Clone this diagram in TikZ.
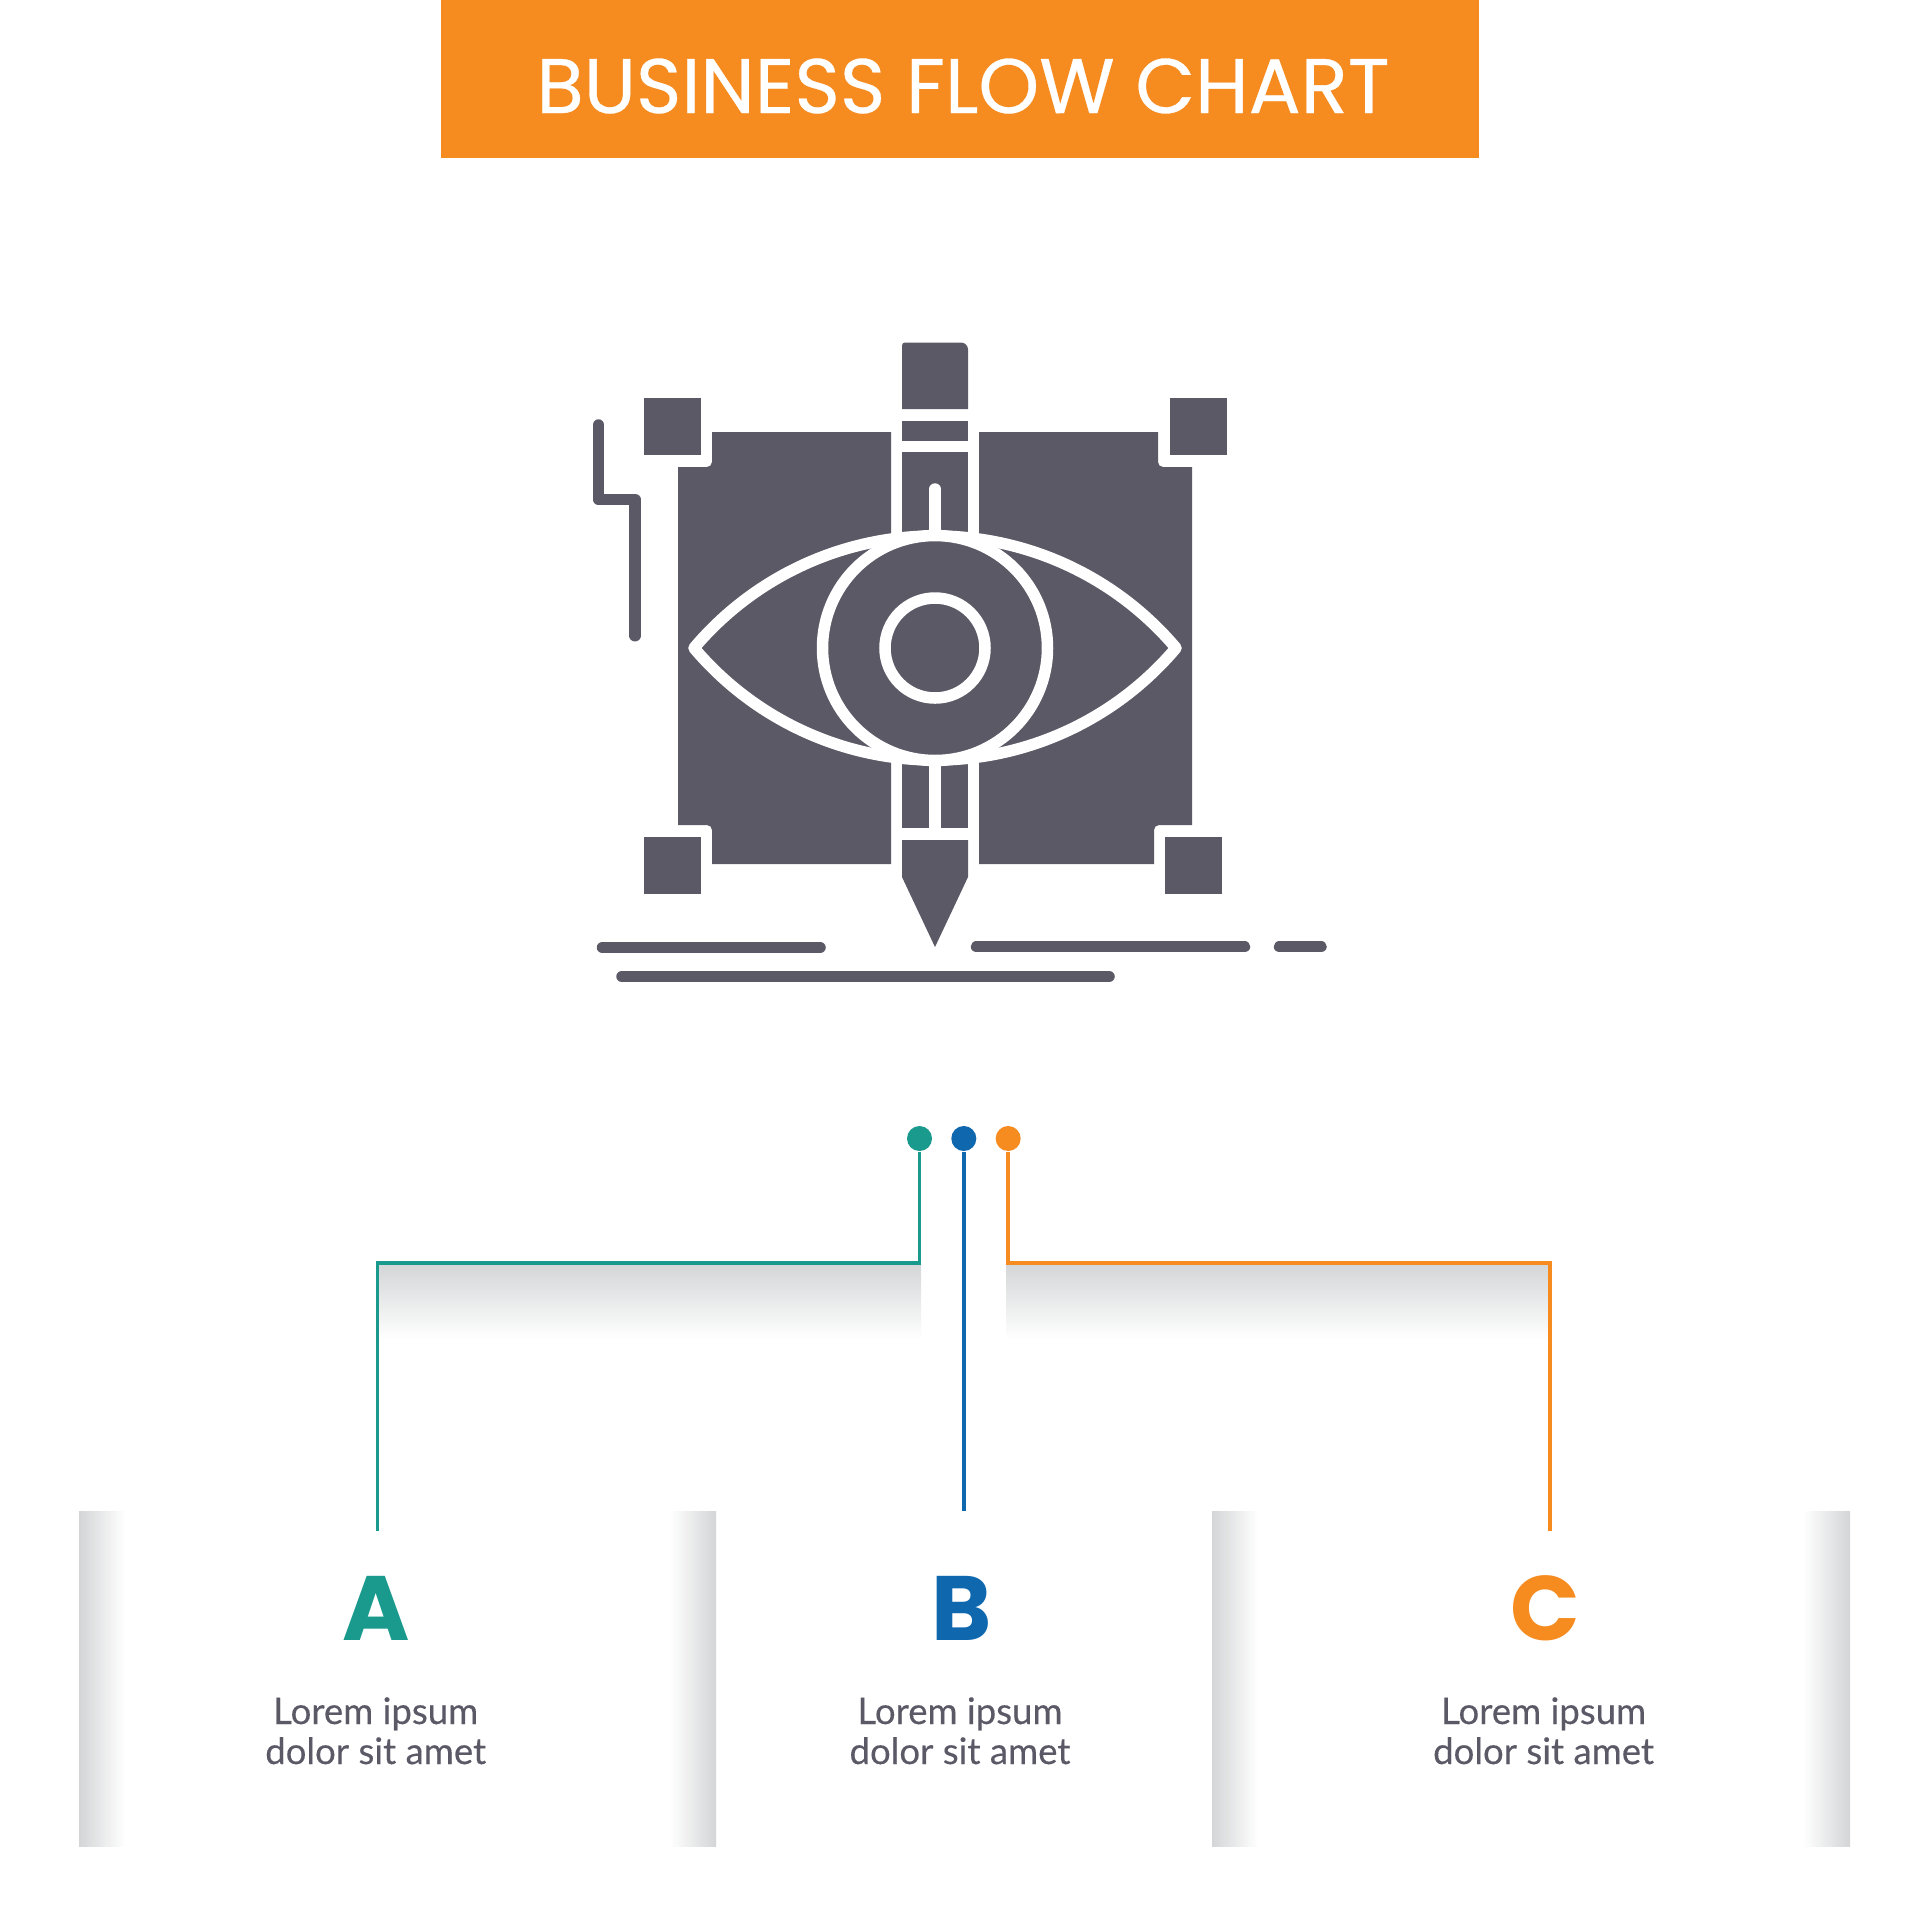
\documentclass[tikz,border=0pt]{standalone}
\usepackage{fontspec}
\setmainfont{Lato}
\newfontfamily\titlefont{Poppins}
\newfontfamily\bannerfont[FakeBold=0.4]{Poppins}
\newfontfamily\capfont[FakeBold=0.25]{Lato}
\definecolor{icondark}{HTML}{5B5966}
\definecolor{flowteal}{HTML}{1A9A8C}
\definecolor{flowblue}{HTML}{0F67AE}
\definecolor{floworange}{HTML}{F68B1F}
\definecolor{flowshade}{HTML}{D3D5D6}
\tikzset{
    banner/.style={fill=floworange,inner sep=0pt,minimum width=10.38cm,minimum height=1.58cm},
    bannertext/.style={text=white,inner sep=0pt,font=\bannerfont\fontsize{22pt}{26pt}\selectfont},
    flowdot/.style={circle,fill=#1,inner sep=0pt,minimum size=0.25cm},
    letter/.style={text=#1,inner sep=0pt,anchor=base,font=\titlefont\bfseries\fontsize{26pt}{31pt}\selectfont},
    caption/.style={text=icondark,inner sep=0pt,align=center,anchor=base,font=\capfont\fontsize{10.4pt}{11.38pt}\selectfont},
    wire/.style={draw=#1,line width=0.035cm},
    stroke/.style={draw=white,line width=0.115cm},
    icon line/.style={draw=icondark,line width=0.115cm,line cap=round,line join=round}
}

\begin{document}
\begin{tikzpicture}[x=0.01cm,y=-0.01cm,node distance=0.443cm]
        \useasboundingbox (0,0) rectangle (1920,1920);
        \fill[white] (0,0) rectangle (1920,1920);
        \node[banner] (bar) at (960,79) {};
        \node[bannertext] (title) at (963,86) {BUSINESS FLOW CHART};

        % shadows
        \shade[top color=flowshade,bottom color=white] (378,1263) rectangle (921,1339);
        \shade[top color=flowshade,bottom color=white] (1006,1263) rectangle (1550,1339);
        \foreach \xa/\xb in {79/125,1212/1258}
            \shade[left color=flowshade,right color=white] (\xa,1511) rectangle (\xb,1846);
        \foreach \xa/\xb in {670/716,1803/1850}
            \shade[left color=white,right color=flowshade] (\xa,1511) rectangle (\xb,1846);

        % icon
        \fill[icondark] (712,432) -- (891,432) -- (891,864) -- (712,864) [rounded corners=0.05cm] -- (712,825) [sharp corners] -- (678,825) -- (678,467) [rounded corners=0.05cm] -- (712,467) [sharp corners] -- cycle;
        \fill[icondark] (979,432) -- (1158,432) [rounded corners=0.05cm] -- (1158,467) [sharp corners] -- (1192,467) -- (1192,825) [rounded corners=0.05cm] -- (1154,825) [sharp corners] -- (1154,864) -- (979,864) -- cycle;
        \foreach \xa/\ya in {644/398,1170/398,644/837,1165/837}
            \fill[icondark] (\xa,\ya) rectangle ++(57,56.5);
        \fill[icondark] (902,409) [rounded corners=0.03cm] -- (902,342.5) [rounded corners=0.07cm] -- (968,342.5) [sharp corners] -- (968,409) -- cycle;
        \fill[icondark] (902,420.5) rectangle (968,441);
        \fill[icondark] (902,452) rectangle (968,560);
        \fill[icondark] (902,740) rectangle (968,828);
        \fill[icondark] (902,840) -- (968,840) -- (968,877) -- (935,947) -- (902,877) -- cycle;
        \draw[stroke,line cap=round] (935,489) -- (935,560);
        \draw[stroke] (935,740) -- (935,828);
        \draw[stroke,fill=icondark,line join=round] (694,648)
            .. controls (754,577) and (842,536) .. (935,536)
            .. controls (1028,536) and (1116,577) .. (1176,648)
            .. controls (1116,719) and (1028,760) .. (935,760)
            .. controls (842,760) and (754,719) .. (694,648) -- cycle;
        \draw[stroke,fill=icondark] (935,648) circle (112.5);
        \draw[stroke,fill=icondark] (935,648) circle (50);
        \draw[icon line] (598.5,425) -- (598.5,499.5) -- (635,499.5) -- (635,635.7);
        \draw[icon line] (602.5,947.5) -- (820,947.5);
        \draw[icon line] (976.5,946.7) -- (1244.5,946.7);
        \draw[icon line] (1279.5,946.7) -- (1321,946.7);
        \draw[icon line] (622,976.5) -- (1109,976.5);

        % flow
        \node[flowdot=flowteal] (dotA) at (919.5,1138.5) {};
        \node[flowdot=flowblue] (dotB) [right of=dotA] {};
        \node[flowdot=floworange] (dotC) [right of=dotB] {};
        \coordinate (endA) at (377.5,1531);
        \coordinate (endB) at (dotB |- 0,1511);
        \coordinate (endC) at (1550,1531);
        \draw[wire=flowteal] (dotA) |- (endA |- 0,1263) -- (endA);
        \draw[wire=flowblue] (dotB) -- (endB);
        \draw[wire=floworange] (dotC) |- (endC |- 0,1263) -- (endC);

        \node[letter=flowteal] (letterA) at (376,1640) {A};
        \node[letter=flowblue] (letterB) at (962,1640) {B};
        \node[letter=floworange] (letterC) at (1545,1640) {C};
        \node[caption] (textA) at (375.7,1764) {Lorem ipsum\\dolor sit amet};
        \node[caption] (textB) at (960,1764) {Lorem ipsum\\dolor sit amet};
        \node[caption] (textC) at (1543.6,1764) {Lorem ipsum\\dolor sit amet};
\end{tikzpicture}
\end{document}
